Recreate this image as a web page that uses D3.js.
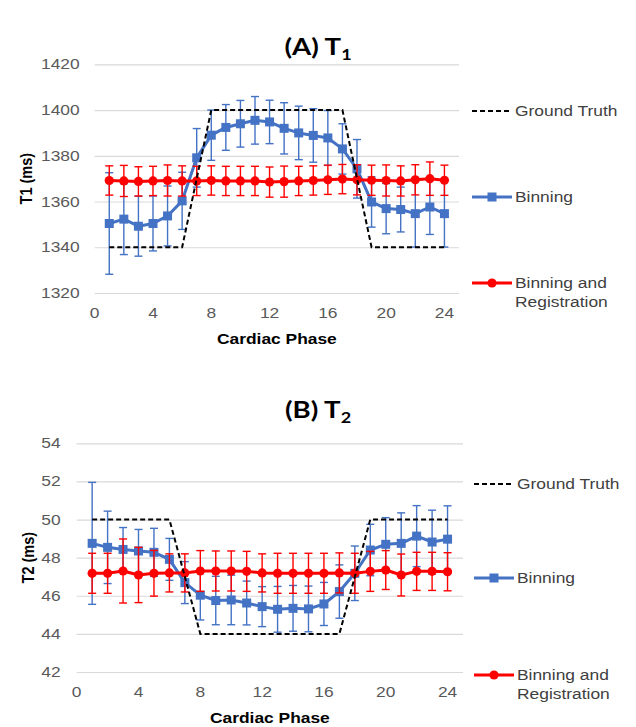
<!DOCTYPE html>
<html>
<head>
<meta charset="utf-8">
<script src="https://cdn.jsdelivr.net/npm/d3@7"></script>
<style>
  html, body { margin: 0; padding: 0; background: #fff; }
  svg { display: block; }
</style>
</head>
<body>
<svg id="chart" width="636" height="727"></svg>
<script>
// Cardiac phases 1..24
const phases = d3.range(1, 25);

// Panel A: T1 (ms)
const t1Truth = [1340,1340,1340,1340,1340,1340,1370,1400,1400,1400,1400,1400,1400,1400,1400,1400,1400,1370,1340,1340,1340,1340,1340,1340];
const t1Binning = [1350.4,1352.3,1349.2,1350.4,1353.7,1360.3,1379.1,1389.0,1392.4,1394.0,1395.5,1394.8,1392.0,1390.0,1388.9,1387.8,1383.0,1374.3,1359.8,1356.9,1356.5,1354.7,1357.6,1354.7];
const t1BinningErr = [22.2,15.5,13.1,12.0,13.1,12.5,12.8,11.0,10.0,10.2,10.4,9.5,11.2,11.7,11.7,12.0,11.0,12.8,11.0,11.0,9.8,14.6,12.0,14.6];
const t1Reg = [1369.2,1369.0,1368.8,1369.0,1369.2,1369.0,1369.0,1369.2,1369.0,1369.0,1369.0,1368.5,1368.7,1369.0,1369.2,1369.5,1369.8,1369.5,1369.3,1369.2,1369.0,1369.5,1370.0,1369.3];
const t1RegErr = [6.4,6.8,6.4,6.4,6.8,6.6,6.4,6.4,6.4,6.4,6.4,6.6,6.8,6.4,6.4,6.4,6.4,6.6,6.6,6.8,6.6,6.6,7.3,6.6];
const t1Ticks = [1320,1340,1360,1380,1400,1420];

// Panel B: T2 (ms)
const t2Truth = [50,50,50,50,50,50,47,44,44,44,44,44,44,44,44,44,44,47,50,50,50,50,50,50];
const t2Binning = [48.75,48.54,48.43,48.35,48.28,47.91,46.69,46.03,45.75,45.78,45.62,45.43,45.29,45.34,45.31,45.57,46.22,47.18,48.40,48.70,48.75,49.13,48.82,48.97];
const t2BinningErr = [3.2,1.9,1.15,1.13,1.26,1.1,1.1,1.3,1.27,1.3,1.15,1.05,1.2,1.2,1.2,1.13,1.4,1.43,1.35,1.4,1.6,1.6,1.67,1.75];
const t2Reg = [47.18,47.18,47.30,47.09,47.18,47.20,47.20,47.30,47.30,47.30,47.28,47.20,47.18,47.18,47.18,47.18,47.20,47.18,47.28,47.35,47.09,47.28,47.28,47.26];
const t2RegErr = [1.05,1.05,1.68,1.45,1.2,1.0,1.0,1.07,1.05,1.05,1.05,1.0,1.05,1.05,1.05,1.05,1.05,1.05,1.05,1.02,1.1,1.0,1.0,1.0];
const t2Ticks = [42,44,46,48,50,52,54];

const xTicks = [0,4,8,12,16,20,24];
const legendNames = ["Ground Truth", "Binning", "Binning and|Registration"];

const BLUE = "#4472C4", RED = "#FF0000", GRID = "#d9d9d9", TXT = "#595959";
const SX = 1.2; // horizontal glyph stretch
const FONT = "'Liberation Sans', Arial, sans-serif";

const svg = d3.select("#chart");

function stretchedText(g, x, y, str, opts = {}) {
  const t = g.append("text")
    .attr("transform", `translate(${x},${y}) scale(${opts.sx || SX},1)${opts.rotate ? ` rotate(${opts.rotate})` : ""}`)
    .attr("font-family", opts.family || FONT)
    .attr("font-size", opts.size || 14.5)
    .attr("font-weight", opts.weight || "normal")
    .attr("fill", opts.fill || TXT)
    .attr("text-anchor", opts.anchor || "start")
    .attr("dy", opts.dy || "0.35em");
  t.text(str);
  return t;
}

function drawPanel(cfg) {
  const g = svg.append("g");
  const x = d3.scaleLinear().domain([0, 25]).range([cfg.left, cfg.right]);
  const y = d3.scaleLinear().domain(cfg.yDomain).range([cfg.bottom, cfg.top]);

  // title with subscript
  const title = g.append("text")
    .attr("transform", `translate(${cfg.titleX},${cfg.titleY}) scale(${SX},1)`)
    .attr("font-family", "Lato, 'Open Sans', sans-serif")
    .attr("font-weight", "bold")
    .attr("font-size", 23)
    .attr("fill", "#000")
    .attr("text-anchor", "middle");
  title.append("tspan").text(cfg.title);
  title.append("tspan").attr("font-size", 15).attr("dy", 5).text(cfg.sub);

  // horizontal gridlines via axis
  const yAxis = d3.axisLeft(y).tickValues(cfg.yTicks).tickSize(-(cfg.right - cfg.left)).tickFormat("");
  const ga = g.append("g").attr("transform", `translate(${cfg.left},0)`).call(yAxis);
  ga.select(".domain").remove();
  ga.selectAll(".tick line").attr("stroke", GRID).attr("stroke-width", 1.2);

  // y tick labels
  cfg.yTicks.forEach(v => stretchedText(g, cfg.left - cfg.labelGap, y(v), String(v), { anchor: "end" }));
  // x tick labels
  xTicks.forEach(v => stretchedText(g, x(v), cfg.bottom + 20, String(v), { anchor: "middle" }));

  // axis titles
  stretchedText(g, (cfg.left + cfg.right) / 2, cfg.bottom + 46, "Cardiac Phase",
    { anchor: "middle", weight: "bold", fill: "#000", size: 14.5 });
  stretchedText(g, cfg.yTitleX, (cfg.top + cfg.bottom) / 2, cfg.yTitle,
    { anchor: "middle", weight: "bold", fill: "#000", size: 14.5, rotate: -90 });

  const line = d3.line().x((d, i) => x(phases[i])).y(d => y(d));

  function series(vals, errs, color, shape) {
    const s = g.append("g");
    // error bars
    vals.forEach((v, i) => {
      const cx = x(phases[i]);
      const y0 = y(v - errs[i]), y1 = y(v + errs[i]);
      s.append("line").attr("x1", cx).attr("x2", cx).attr("y1", y0).attr("y2", y1)
        .attr("stroke", color).attr("stroke-width", 1.4);
      [y0, y1].forEach(yy => s.append("line").attr("x1", cx - 4).attr("x2", cx + 4)
        .attr("y1", yy).attr("y2", yy).attr("stroke", color).attr("stroke-width", 1.4));
    });
    s.append("path").attr("d", line(vals)).attr("fill", "none")
      .attr("stroke", color).attr("stroke-width", 3).attr("stroke-linejoin", "round");
    vals.forEach((v, i) => {
      const cx = x(phases[i]), cy = y(v);
      if (shape === "square") {
        s.append("rect").attr("x", cx - 4.5).attr("y", cy - 4.5).attr("width", 9).attr("height", 9).attr("fill", color);
      } else {
        s.append("circle").attr("cx", cx).attr("cy", cy).attr("r", 4.6).attr("fill", color);
      }
    });
  }

  series(cfg.binning, cfg.binningErr, BLUE, "square");
  series(cfg.reg, cfg.regErr, RED, "circle");

  // ground truth dashed
  g.append("path").attr("d", line(cfg.truth)).attr("fill", "none")
    .attr("stroke", "#000").attr("stroke-width", 2).attr("stroke-dasharray", "5,3");

  // legend
  const lx0 = cfg.legendX, lx1 = cfg.legendX + 40, tx = cfg.legendX + 43;
  const [ly0, ly1, ly2] = cfg.legendY;
  g.append("line").attr("x1", lx0).attr("x2", lx1).attr("y1", ly0).attr("y2", ly0)
    .attr("stroke", "#000").attr("stroke-width", 2).attr("stroke-dasharray", "5,3");
  stretchedText(g, tx, ly0, legendNames[0], { fill: "#404040" });

  g.append("line").attr("x1", lx0).attr("x2", lx1).attr("y1", ly1).attr("y2", ly1)
    .attr("stroke", BLUE).attr("stroke-width", 3);
  g.append("rect").attr("x", (lx0 + lx1) / 2 - 4.5).attr("y", ly1 - 4.5).attr("width", 9).attr("height", 9).attr("fill", BLUE);
  stretchedText(g, tx, ly1, legendNames[1], { fill: "#404040" });

  g.append("line").attr("x1", lx0).attr("x2", lx1).attr("y1", ly2).attr("y2", ly2)
    .attr("stroke", RED).attr("stroke-width", 3);
  g.append("circle").attr("cx", (lx0 + lx1) / 2).attr("cy", ly2).attr("r", 4.6).attr("fill", RED);
  const parts = legendNames[2].split("|");
  stretchedText(g, tx, ly2, parts[0], { fill: "#404040" });
  stretchedText(g, tx, ly2 + 19, parts[1], { fill: "#404040" });
}

drawPanel({
  title: "(A) T", sub: "1", titleX: 318, titleY: 55,
  left: 94.7, right: 459, top: 64.3, bottom: 293,
  yDomain: [1320, 1420], yTicks: t1Ticks, labelGap: 15,
  yTitle: "T1 (ms)", yTitleX: 26,
  truth: t1Truth, binning: t1Binning, binningErr: t1BinningErr, reg: t1Reg, regErr: t1RegErr,
  legendX: 472, legendY: [111, 197, 283]
});

drawPanel({
  title: "(B) T", sub: "2", titleX: 318, titleY: 418,
  left: 76.7, right: 463, top: 443.3, bottom: 672,
  yDomain: [42, 54], yTicks: t2Ticks, labelGap: 16,
  yTitle: "T2 (ms)", yTitleX: 28,
  truth: t2Truth, binning: t2Binning, binningErr: t2BinningErr, reg: t2Reg, regErr: t2RegErr,
  legendX: 474, legendY: [484, 578, 675]
});
</script>
</body>
</html>
